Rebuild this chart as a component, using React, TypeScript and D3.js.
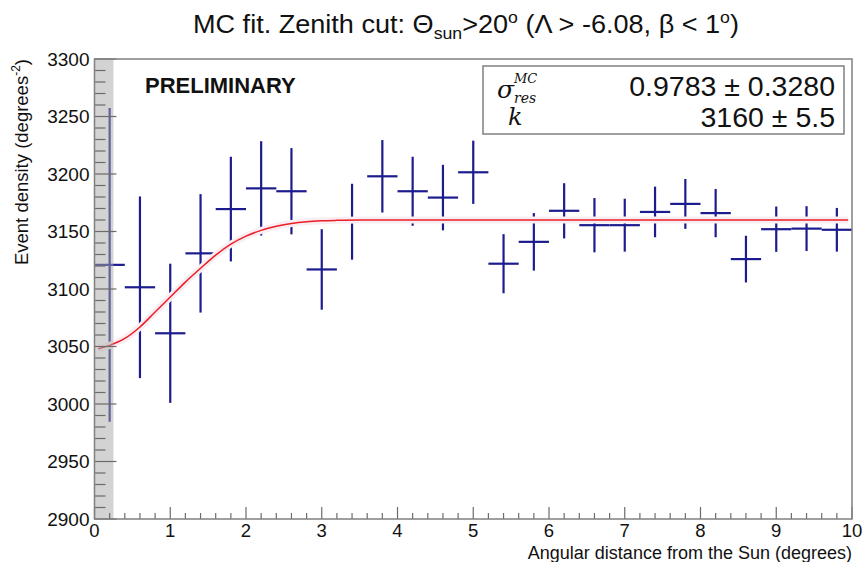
import React from 'react';
import * as d3 from 'd3';

// bin centres (degrees), measured density and its error
const binCenters = [0.2, 0.6, 1.0, 1.4, 1.8, 2.2, 2.6, 3.0, 3.4, 3.8, 4.2, 4.6, 5.0, 5.4, 5.8, 6.2, 6.6, 7.0, 7.4, 7.8, 8.2, 8.6, 9.0, 9.4, 9.8];
const density = [3121, 3101.5, 3061.5, 3131, 3169.5, 3187.5, 3185, 3117, 3158.5, 3198, 3185, 3179.5, 3201.5, 3122, 3141, 3168, 3155.5, 3155.5, 3167, 3174, 3166, 3126, 3152, 3152.5, 3151.5];
const densityErr = [136.5, 79, 60.5, 51.5, 45.5, 41, 37.5, 35, 33, 31.5, 30, 28.5, 27.5, 25.7, 25, 24, 23.6, 23, 22, 21.7, 21, 20.3, 19.7, 19.5, 19];
const binHalfWidth = 0.2;

// fitted curve
const fitX = [0.05, 0.2, 0.4, 0.6, 0.8, 1.0, 1.2, 1.4, 1.6, 1.8, 2.0, 2.2, 2.4, 2.6, 2.8, 3.0, 3.2, 3.5, 4.0, 9.95];
const fitY = [3048, 3051, 3057, 3067, 3080, 3093, 3106, 3118, 3129.5, 3139, 3146, 3151, 3154.5, 3157, 3158.5, 3159.3, 3159.7, 3160, 3160, 3160];

const excludedRange = [0, 0.25];
const xTicks = [0, 1, 2, 3, 4, 5, 6, 7, 8, 9, 10];
const yTicks = [2900, 2950, 3000, 3050, 3100, 3150, 3200, 3250, 3300];

const W = 866;
const H = 562;
const left = 94.5, right = 852, top = 59, bottom = 519;
const font = '"Liberation Sans", Arial, Helvetica, sans-serif';
const blue = '#1c1c8e';
const axisCol = '#6b6b6b';

export default function App() {
  const x = d3.scaleLinear().domain([0, 10]).range([left, right]);
  const y = d3.scaleLinear().domain([2900, 3300]).range([bottom, top]);

  const xMinor = x.ticks(50);
  const yMinor = y.ticks(40);

  const fitLine = d3.line<number>()
    .x((d, i) => x(fitX[i]))
    .y((d) => y(d))
    .curve(d3.curveMonotoneX);

  return (
    <svg width={W} height={H} style={{ position: 'fixed', left: 0, top: 0, background: '#fff' }}
      fontFamily={font}>
      <rect x={0} y={0} width={W} height={H} fill="#fff" />

      {/* title */}
      <text x={466} y={33} fontSize={26} textAnchor="middle" fill="#111" textLength={546} lengthAdjust="spacingAndGlyphs">
        MC fit. Zenith cut: Θ
        <tspan fontSize={17} dy={6}>sun</tspan>
        <tspan dy={-6}>{'>20'}</tspan>
        <tspan fontSize={17} dy={-10}>o</tspan>
        <tspan dy={10}>{' (Λ > -6.08, β < 1'}</tspan>
        <tspan fontSize={17} dy={-10}>o</tspan>
        <tspan dy={10}>)</tspan>
      </text>

      {/* error bars */}
      <g stroke={blue} strokeWidth={2.2}>
        {binCenters.map((c, i) => (
          <g key={i}>
            <line x1={x(c - binHalfWidth)} x2={x(c + binHalfWidth)} y1={y(density[i])} y2={y(density[i])} />
            <line x1={x(c)} x2={x(c)} y1={y(density[i] + densityErr[i])} y2={y(density[i] - densityErr[i])} />
          </g>
        ))}
      </g>

      {/* fit */}
      <path d={fitLine(fitY) || ''} fill="none" stroke="#f8edf2" strokeWidth={7} />
      <path d={fitLine(fitY) || ''} fill="none" stroke="#ee1c24" strokeWidth={1.5} />

      {/* excluded region */}
      <rect x={x(excludedRange[0])} y={top} width={x(excludedRange[1]) - x(excludedRange[0])} height={bottom - top}
        fill="#a8a8a8" fillOpacity={0.5} />

      {/* ticks */}
      <g stroke={axisCol} strokeWidth={1.2}>
        {yMinor.map((t) => {
          const major = t % 50 === 0;
          return <line key={'y' + t} x1={left} x2={left + (major ? 22 : 11)} y1={y(t)} y2={y(t)} />;
        })}
        {xMinor.map((t) => {
          const major = Math.abs(t - Math.round(t)) < 1e-6;
          return <line key={'x' + t} x1={x(t)} x2={x(t)} y1={bottom} y2={bottom - (major ? 12 : 6)} />;
        })}
      </g>

      {/* frame */}
      <rect x={left} y={top} width={right - left} height={bottom - top} fill="none" stroke="#808080" strokeWidth={1.5} />

      {/* tick labels */}
      <g fontSize={19} fill="#111">
        {yTicks.map((t) => (
          <text key={t} x={left - 5} y={y(t) + 6.5} textAnchor="end">{t}</text>
        ))}
      </g>
      <g fontSize={18.5} fill="#111">
        {xTicks.map((t) => (
          <text key={t} x={x(t)} y={bottom + 18} textAnchor="middle">{t}</text>
        ))}
      </g>

      {/* axis titles */}
      <text x={right} y={559} fontSize={18} textAnchor="end" fill="#111">
        Angular distance from the Sun (degrees)
      </text>
      <text transform={`translate(28,${top}) rotate(-90)`} fontSize={18.5} textAnchor="end" fill="#111">
        Event density (degrees
        <tspan fontSize={12} dy={-8}>-2</tspan>
        <tspan dy={8}>)</tspan>
      </text>

      <text x={145} y={93} fontSize={22} fontWeight="bold" fill="#111">PRELIMINARY</text>

      {/* fit box */}
      <rect x={483} y={66} width={361} height={68} fill="#fff" stroke="#808080" strokeWidth={1.5} />
      <g fontFamily='"DejaVu Serif", "Liberation Serif", serif' fontStyle="italic" fill="#111">
        <text x={497} y={98} fontSize={25}>σ</text>
        <text x={514} y={83} fontSize={13}>MC</text>
        <text x={514} y={103} fontSize={14}>res</text>
        <text x={508} y={125} fontSize={24}>k</text>
      </g>
      <g fontSize={28.5} textAnchor="end" fill="#111">
        <text x={835} y={96}>0.9783 ± 0.3280</text>
        <text x={835} y={127}>3160 ± 5.5</text>
      </g>
    </svg>
  );
}
